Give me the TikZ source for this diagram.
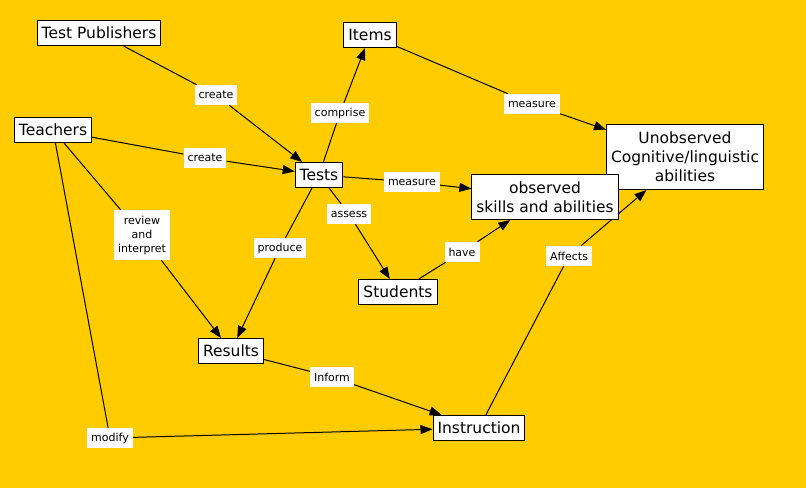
\documentclass[tikz,border=0pt]{standalone}
\usepackage{fontspec}
\setmainfont{DejaVu Sans}
\usetikzlibrary{arrows.meta,backgrounds}
\definecolor{cmapbg}{RGB}{255,204,0}

\begin{document}
\begin{tikzpicture}[x=1pt, y=-1pt,
    concept/.style={draw, fill=white, line width=1pt, minimum height=25pt, inner xsep=4.5pt, inner ysep=3pt, align=center, font=\fontsize{15.5}{19}\selectfont},
    link/.style={fill=white, minimum height=20pt, inner xsep=4pt, inner ysep=4.5pt, align=center, font=\fontsize{11}{14}\selectfont},
    line/.style={line width=1pt},
    arr/.style={line width=1pt, -{Triangle[length=12pt, width=9pt]}}]
    % concepts
    \node[concept] (pub) at (99,33) {Test Publishers};
    \node[concept] (items) at (370,35) {Items};
    \node[concept] (teach) at (53,130) {Teachers};
    \node[concept] (tests) at (319,175) {Tests};
    \node[concept, minimum height=65pt] (unobs) at (685,157) {Unobserved\\Cognitive/linguistic\\abilities};
    \node[concept, minimum height=45pt] (obs) at (545,197) {observed\\skills and abilities};
    \node[concept] (stud) at (398,292) {Students};
    \node[concept] (res) at (231,351) {Results};
    \node[concept] (instr) at (479,428) {Instruction};

    % linking phrases
    \node[link] (pubcreate) at (216,95) {create};
    \node[link] (comprise) at (340,113) {comprise};
    \node[link] (teachcreate) at (205,158) {create};
    \node[link] (measobs) at (412,182) {measure};
    \node[link] (assess) at (349,214) {assess};
    \node[link, minimum height=50pt] (review) at (142,235) {review\\and\\interpret};
    \node[link] (produce) at (280,248) {produce};
    \node[link] (measunobs) at (532,104) {measure};
    \node[link] (have) at (462,252) {have};
    \node[link] (affects) at (569,256) {Affects};
    \node[link] (inform) at (332,377) {Inform};
    \node[link] (modify) at (110,438) {modify};

    \begin{pgfonlayer}{background}
    \fill[cmapbg] (0,0) rectangle (806,488);

    \draw[line] (pub) -- (pubcreate);
    \draw[arr] (pubcreate) -- (tests);
    \draw[line] (teach) -- (teachcreate);
    \draw[arr] (teachcreate) -- (tests);
    \draw[line] (teach) -- (review);
    \draw[arr] (review) -- (res);
    \draw[line] (teach) -- (modify);
    \draw[arr] (modify) -- (instr);

    \draw[line] (tests) -- (comprise);
    \draw[arr] (comprise) -- (items);
    \draw[line] (tests) -- (measobs);
    \draw[arr] (measobs) -- (obs);
    \draw[line] (tests) -- (assess);
    \draw[arr] (assess) -- (stud);
    \draw[line] (tests) -- (produce);
    \draw[arr] (produce) -- (res);

    \draw[line] (items) -- (measunobs);
    \draw[arr] (measunobs) -- (unobs);
    \draw[line] (stud) -- (have);
    \draw[arr] (have) -- (obs);
    \draw[line] (res) -- (inform);
    \draw[arr] (inform) -- (instr);
    \draw[line] (instr) -- (affects);
    \draw[arr] (affects) -- (unobs);
    \end{pgfonlayer}
\end{tikzpicture}
\end{document}
